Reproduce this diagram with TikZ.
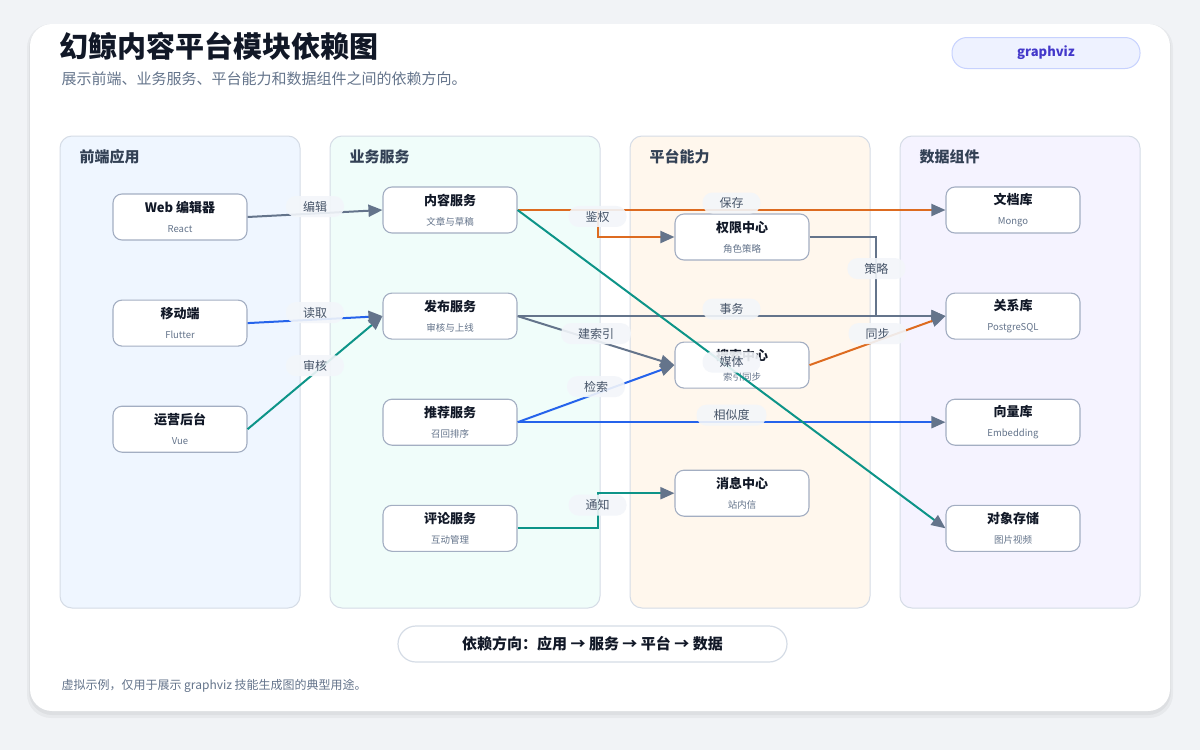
\documentclass[tikz,border=0pt]{standalone}
\usepackage{fontspec}
\setmainfont{Noto Sans CJK SC}
\usetikzlibrary{arrows.meta,
                chains,
                positioning}

\definecolor{pagebg}{HTML}{F1F3F6}
\definecolor{ink}{HTML}{111827}
\definecolor{lanetext}{HTML}{334155}
\definecolor{subgray}{HTML}{64748B}
\definecolor{boxline}{HTML}{A3AEC2}
\definecolor{laneline}{HTML}{D5DCE6}
\definecolor{laneblue}{HTML}{EFF6FF}
\definecolor{laneteal}{HTML}{F0FDFA}
\definecolor{laneorange}{HTML}{FFF7ED}
\definecolor{lanepurple}{HTML}{F5F3FF}
\definecolor{edgegray}{HTML}{64748B}
\definecolor{edgeblue}{HTML}{2563EB}
\definecolor{edgeteal}{HTML}{0D9488}
\definecolor{edgeorange}{HTML}{DD6B20}
\definecolor{tagbg}{HTML}{F3F6FA}
\definecolor{tagtext}{HTML}{475569}
\definecolor{pillbg}{HTML}{EEF2FF}
\definecolor{pillline}{HTML}{C7D2FE}
\definecolor{pilltext}{HTML}{4338CA}

\newcommand\subline[1]{{\fontsize{9.5}{12}\selectfont\mdseries\color{subgray}#1}}

\begin{document}
\begin{tikzpicture}[
x=1pt, y=-1pt,
node distance = 59pt,
   box/.style = {rectangle, rounded corners=9pt, draw=boxline, line width=1.1pt,
                 fill=white, minimum width=134pt, minimum height=46pt,
                 align=center, text=ink,
                 font=\fontsize{13}{17}\selectfont\bfseries,
                 on chain},
  lane/.style = {rounded corners=12pt, draw=laneline, line width=1pt},
 lanet/.style = {anchor=west, text=lanetext, font=\fontsize{15}{15}\selectfont\bfseries},
   tag/.style = {fill=tagbg, fill opacity=0.9, text opacity=1, rounded corners=10pt,
                 inner xsep=17pt, inner ysep=2pt, minimum height=21pt,
                 text=tagtext, font=\fontsize{12}{12}\selectfont},
 tagup/.style = {tag, yshift=7pt},
  link/.style = {line width=2pt,
                 -{Triangle[length=14pt, width=12pt, color=edgegray]}},
                        ]
% page and card
\fill[pagebg] (0,0) rectangle (1200,750);
\useasboundingbox (0,0) rectangle (1200,750);
\fill[black, opacity=0.04, rounded corners=24pt] (27,24) rectangle (1173,718);
\fill[black, opacity=0.04, rounded corners=23pt] (29,25) rectangle (1171,715);
\fill[white, rounded corners=22pt] (30,24) rectangle (1170,711);

% headings
\node[anchor=west, text=ink, font=\fontsize{29}{29}\selectfont\bfseries]
    (title) at (56,46) {幻鲸内容平台模块依赖图};
\node[anchor=west, text=subgray, font=\fontsize{15}{15}\selectfont]
    (subtitle) at (58,79) {展示前端、业务服务、平台能力和数据组件之间的依赖方向。};
\node[draw=pillline, line width=1pt, fill=pillbg, rounded corners=15pt,
      minimum width=188pt, minimum height=31pt, text=pilltext,
      font=\fontsize{13}{13}\selectfont\bfseries]
    (tool) at (1046,53) {graphviz};

% lanes
\draw[lane, fill=laneblue]   ( 60,136) rectangle ( 300,608);
\draw[lane, fill=laneteal]   (330,136) rectangle ( 600,608);
\draw[lane, fill=laneorange] (630,136) rectangle ( 870,608);
\draw[lane, fill=lanepurple] (900,136) rectangle (1140,608);
\node[lanet] (L1) at ( 76,157) {前端应用};
\node[lanet] (L2) at (346,157) {业务服务};
\node[lanet] (L3) at (646,157) {平台能力};
\node[lanet] (L4) at (916,157) {数据组件};

% modules
    \begin{scope}[start chain=F going below]
\node[box] at (180,217) {Web 编辑器\\[3pt] \subline{React}};      % F-1
\node[box] {移动端\\[3pt] \subline{Flutter}};
\node[box] {运营后台\\[3pt] \subline{Vue}};                      % F-3
    \end{scope}
    \begin{scope}[start chain=S going below]
\node[box] at (450,210) {内容服务\\[3pt] \subline{文章与草稿}};     % S-1
\node[box] {发布服务\\[3pt] \subline{审核与上线}};
\node[box] {推荐服务\\[3pt] \subline{召回排序}};
\node[box] {评论服务\\[3pt] \subline{互动管理}};                  % S-4
    \end{scope}
    \begin{scope}[start chain=P going below, node distance=81pt]
\node[box] at (742,237) {权限中心\\[3pt] \subline{角色策略}};      % P-1
\node[box] {搜索中心\\[3pt] \subline{索引同步}};
\node[box] {消息中心\\[3pt] \subline{站内信}};                    % P-3
    \end{scope}
    \begin{scope}[start chain=D going below]
\node[box] at (1013,210) {文档库\\[3pt] \subline{Mongo}};        % D-1
\node[box] {关系库\\[3pt] \subline{PostgreSQL}};
\node[box] {向量库\\[3pt] \subline{Embedding}};
\node[box] {对象存储\\[3pt] \subline{图片视频}};                  % D-4
    \end{scope}

% dependencies
\draw[link, edgegray]   (F-1.east) -- node[tagup] {编辑} (S-1.west);
\draw[link, edgeblue]   (F-2.east) -- node[tagup] {读取} (S-2.west);
\draw[link, edgeteal]   (F-3.east) -- node[tagup] {审核} (S-2.west);
\draw[link, edgeorange] (S-1.east) -- node[tagup] {保存} (D-1.west);
\draw[link, edgeorange] (S-1.east) -- ++(80,0) |- node[tag, pos=0.12] {鉴权} (P-1.west);
\draw[link, edgegray]   (S-2.east) -- node[tagup] {事务} (D-2.west);
\draw[link, edgegray]   (S-2.east) -- node[tagup] {建索引} (P-2.west);
\draw[link, edgeblue]   (S-3.east) -- node[tagup] {检索} (P-2.west);
\draw[link, edgeblue]   (S-3.east) -- node[tagup] {相似度} (D-3.west);
\draw[link, edgeteal]   (S-4.east) -- ++(80,0) |- node[tag, pos=0.33] {通知} (P-3.west);
\draw[link, edgegray]   (P-1.east) -| node[tag, pos=0.7] {策略} ([xshift=-69pt]D-2.west)
                                   -- (D-2.west);
\draw[link, edgeorange] (P-2.east) -- node[tagup] {同步} (D-2.west);
\draw[link, edgeteal]   (S-1.east) -- node[tagup] {媒体} (D-4.west);

% footer
\node[draw=laneline, line width=1.2pt, fill=white, rounded corners=18pt,
      minimum width=389pt, minimum height=36pt, text=ink,
      font=\fontsize{15}{15}\selectfont\bfseries]
    (legend) at (592.5,644) {依赖方向：应用 → 服务 → 平台 → 数据};
\node[anchor=west, text=subgray, font=\fontsize{12}{12}\selectfont]
    (note) at (58,686) {虚拟示例，仅用于展示 graphviz 技能生成图的典型用途。};
    \end{tikzpicture}
\end{document}
